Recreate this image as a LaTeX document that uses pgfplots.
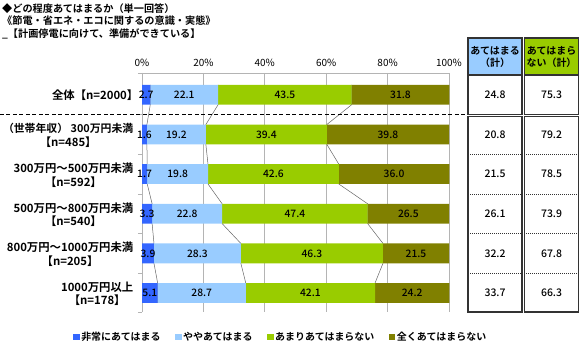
\documentclass[border=0pt]{standalone}
\usepackage{pgfplots}
\pgfplotsset{compat=1.18}
\usepackage{pgfplotstable}
\usepackage{fontspec}
\setmainfont{Noto Sans CJK JP}[BoldFont={Noto Sans CJK JP Bold}]
\newfontfamily\medf{Noto Sans CJK JP Medium}
\definecolor{c1}{HTML}{3366FF}
\definecolor{c2}{HTML}{99CCFF}
\definecolor{c3}{HTML}{99CC00}
\definecolor{c4}{HTML}{808000}
\definecolor{gridc}{HTML}{B4B4B4}
\definecolor{tabc}{HTML}{333333}

\pgfplotstableread{
row a b c d t1 t2
1 2.7 22.1 43.5 31.8 24.8 75.3
2 1.6 19.2 39.4 39.8 20.8 79.2
3 1.7 19.8 42.6 36.0 21.5 78.5
4 3.3 22.8 47.4 26.5 26.1 73.9
5 3.9 28.3 46.3 21.5 32.2 67.8
6 5.1 28.7 42.1 24.2 33.7 66.3
}\data

% each row twice: bottom and top edge of its bar (for the series lines)
\pgfplotstableread{
y a b c
0.75 2.7 22.1 43.5
1.25 2.7 22.1 43.5
1.75 1.6 19.2 39.4
2.25 1.6 19.2 39.4
2.75 1.7 19.8 42.6
3.25 1.7 19.8 42.6
3.75 3.3 22.8 47.4
4.25 3.3 22.8 47.4
4.75 3.9 28.3 46.3
5.25 3.9 28.3 46.3
5.75 5.1 28.7 42.1
6.25 5.1 28.7 42.1
}\conn

\pgfplotsset{
  geom/.style={at={(142bp,40bp)}, anchor=south west, scale only axis,
    width=307bp, height=239bp, xmin=0, xmax=100, ymin=0.45, ymax=6.48,
    y dir=reverse, clip=false},
  sq/.style={legend image code/.code={\fill[#1] (0bp,-3.3bp) rectangle (6.6bp,3.3bp);}},
  lab/.style={draw=none, forget plot, nodes near coords, point meta=explicit symbolic,
    nodes near coords style={anchor=center, font=\medf\fontsize{10.3}{12}\selectfont, text=black}},
}
\tikzset{cat/.style={inner sep=0pt, font=\bfseries\fontsize{11.4}{13.5}\selectfont}}

\begin{document}
\begin{tikzpicture}
\useasboundingbox (0,0) rectangle (580bp,352bp);

% ---------- background axis: grid, ticks, series lines, table ----------
\begin{axis}[geom,
  axis x line*=top, axis y line*=left,
  axis line style={gridc, line width=0.7bp},
  xtick={0,20,40,60,80,100},
  xticklabels={0\%,20\%,40\%,60\%,80\%,100\%},
  xmajorgrids, grid style={gridc, line width=0.7bp},
  major x tick style={draw=none},
  ytick={0.45,1.5,2.5,3.5,4.5,5.5,6.48}, yticklabels={},
  y tick style={gridc, line width=0.7bp},
  major tick length=4bp, tick align=outside,
  xticklabel style={font=\fontsize{10}{12}\selectfont, yshift=-1bp},
]
\addplot[gray!80!black, line width=0.5bp, forget plot] table[x=a, y=y]{\conn};
\addplot[gray!80!black, line width=0.5bp, forget plot] table[x expr=\thisrow{a}+\thisrow{b}, y=y]{\conn};
\addplot[gray!80!black, line width=0.5bp, forget plot] table[x expr=\thisrow{a}+\thisrow{b}+\thisrow{c}, y=y]{\conn};

% category labels (line 2 centred under line 1)
\node[cat, anchor=east] at ([xshift=-3.5bp]axis cs:0,1) {全体【n=2000】};
\node[cat, anchor=base east, font=\bfseries\fontsize{10.9}{13.5}\selectfont] (r2) at ([xshift=-8.5bp, yshift=1.5bp]axis cs:0,2) {（世帯年収） 300万円未満};
\node[cat, anchor=base] at ([yshift=-13.5bp]r2.base) {【n=485】};
\node[cat, anchor=base east] (r3) at ([xshift=-8.5bp, yshift=1.5bp]axis cs:0,3) {300万円～500万円未満};
\node[cat, anchor=base] at ([yshift=-13.5bp]r3.base) {【n=592】};
\node[cat, anchor=base east] (r4) at ([xshift=-8.5bp, yshift=1.5bp]axis cs:0,4) {500万円～800万円未満};
\node[cat, anchor=base] at ([yshift=-13.5bp]r4.base) {【n=540】};
\node[cat, anchor=base east] (r5) at ([xshift=-8.5bp, yshift=1.5bp]axis cs:0,5) {800万円～1000万円未満};
\node[cat, anchor=base] at ([yshift=-13.5bp]r5.base) {【n=205】};
\node[cat, anchor=base east] (r6) at ([xshift=-8.5bp, yshift=1.5bp]axis cs:0,6) {1000万円以上};
\node[cat, anchor=base] at ([yshift=-13.5bp]r6.base) {【n=178】};

% table on the right
\fill[c2] (axis cs:106.2,-0.434) rectangle (axis cs:123.8,0.5);
\fill[c3] (axis cs:124.5,-0.434) rectangle (axis cs:142.3,0.5);
\draw[tabc, line width=0.5bp, dash pattern=on 1bp off 1bp]
  (axis cs:106.2,2.5) -- (axis cs:123.8,2.5) (axis cs:124.5,2.5) -- (axis cs:142.3,2.5)
  (axis cs:106.2,3.5) -- (axis cs:123.8,3.5) (axis cs:124.5,3.5) -- (axis cs:142.3,3.5)
  (axis cs:106.2,4.5) -- (axis cs:123.8,4.5) (axis cs:124.5,4.5) -- (axis cs:142.3,4.5)
  (axis cs:106.2,5.5) -- (axis cs:123.8,5.5) (axis cs:124.5,5.5) -- (axis cs:142.3,5.5);
\draw[tabc, line width=1.2bp]
  (axis cs:106.2,-0.434) rectangle (axis cs:123.8,1.5)
  (axis cs:124.5,-0.434) rectangle (axis cs:142.3,1.5)
  (axis cs:106.2,1.55) rectangle (axis cs:123.8,6.48)
  (axis cs:124.5,1.55) rectangle (axis cs:142.3,6.48)
  (axis cs:106.2,0.5) -- (axis cs:123.8,0.5)
  (axis cs:124.5,0.5) -- (axis cs:142.3,0.5);
\node[font=\bfseries\fontsize{10}{12}\selectfont, align=center] at (axis cs:115,0.035) {あてはまる\\（計）};
\node[font=\bfseries\fontsize{10}{12}\selectfont, align=center] at (axis cs:133.4,0.035) {あてはまら\\ない（計）};

\addplot[lab, nodes near coords style={font=\medf\fontsize{10.5}{12}\selectfont}]
  table[x expr=115, y=row, meta=t1]{\data};
\addplot[lab, nodes near coords style={font=\medf\fontsize{10.5}{12}\selectfont}]
  table[x expr=133.4, y=row, meta=t2]{\data};

% dashed separator
\draw[black, line width=0.8bp, dash pattern=on 4bp off 2.5bp] (axis cs:-46.3,1.5) -- (axis cs:105.9,1.5);
\end{axis}

% ---------- bars ----------
\begin{axis}[geom, hide axis,
  xbar stacked, bar width=0.5,
  legend style={at={(-0.2248,-0.1046)}, anchor=west, draw=none, fill=none,
    inner sep=0pt, legend columns=4,
    font=\bfseries\fontsize{10}{12}\selectfont,
    /tikz/every even column/.append style={column sep=13bp},
    nodes={inner sep=1.5bp}},
]
\addplot[fill=c1, draw=none, sq] table[x=a, y=row]{\data};
\addlegendentry{非常にあてはまる}
\addplot[fill=c2, draw=none, sq] table[x=b, y=row]{\data};
\addlegendentry{ややあてはまる}
\addplot[fill=c3, draw=none, sq] table[x=c, y=row]{\data};
\addlegendentry{あまりあてはまらない}
\addplot[fill=c4, draw=none, sq] table[x=d, y=row]{\data};
\addlegendentry{全くあてはまらない}
\end{axis}

% ---------- value labels, centred on each segment ----------
\begin{axis}[geom, hide axis]
\addplot[lab] table[x expr=\thisrow{a}/2, y=row, meta=a]{\data};
\addplot[lab] table[x expr=\thisrow{a}+\thisrow{b}/2, y=row, meta=b]{\data};
\addplot[lab] table[x expr=\thisrow{a}+\thisrow{b}+\thisrow{c}/2, y=row, meta=c]{\data};
\addplot[lab] table[x expr=\thisrow{a}+\thisrow{b}+\thisrow{c}+\thisrow{d}/2, y=row, meta=d]{\data};
\end{axis}

\node[anchor=north west, align=left, inner sep=0pt, font=\bfseries\fontsize{10.2}{13}\selectfont]
  at (2bp,349bp) {◆どの程度あてはまるか（単一回答）\\《節電・省エネ・エコに関するの意識・実態》\\\_【計画停電に向けて、準備ができている】};
\end{tikzpicture}
\end{document}
